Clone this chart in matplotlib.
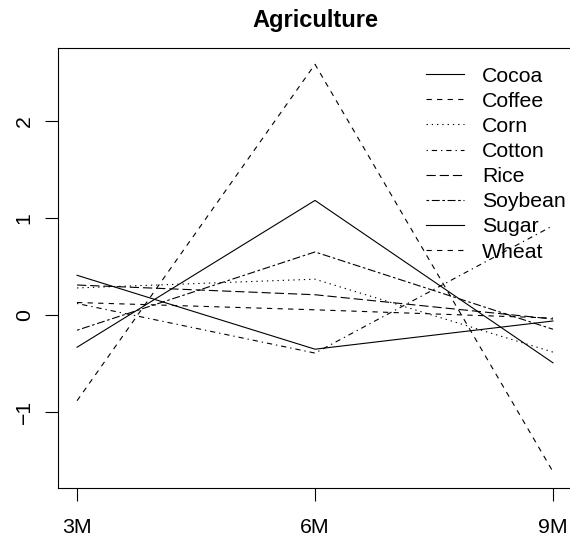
import numpy as np
import matplotlib.pyplot as plt

plt.rcParams['font.family'] = ['Liberation Sans', 'DejaVu Sans']
plt.rcParams['lines.scale_dashes'] = False

horizons = ['3M', '6M', '9M']
commodities = ['Cocoa', 'Coffee', 'Corn', 'Cotton', 'Rice', 'Soybean', 'Sugar', 'Wheat']

cocoa = [-0.33, 1.18, -0.49]
coffee = [-0.88, 2.58, -1.61]
corn = [0.28, 0.37, -0.38]
cotton = [0.12, -0.39, 0.92]
rice = [0.31, 0.21, -0.04]
soybean = [-0.155, 0.65, -0.145]
sugar = [0.41, -0.35, -0.06]
wheat = [0.13, 0.055, -0.03]

series = [cocoa, coffee, corn, cotton, rice, soybean, sugar, wheat]

# R-style line types: solid, dashed, dotted, dotdash, longdash, twodash (recycled)
u = 0.95
lty = [None, (0, (4 * u, 4 * u)), (0, (1 * u, 3 * u)), (0, (1 * u, 3 * u, 4 * u, 3 * u)),
       (0, (7 * u, 3 * u)), (0, (2 * u, 2 * u, 6 * u, 2 * u))]

fig = plt.figure(figsize=(5.70, 5.39), dpi=100)
ax = fig.add_axes([58 / 570, 51 / 539, 514 / 570, 440 / 539])

x = np.arange(1, len(horizons) + 1)
for i, (name, vals) in enumerate(zip(commodities, series)):
    ls = lty[i % len(lty)]
    ax.plot(x, vals, color='black', lw=0.8, label=name,
            linestyle='-' if ls is None else ls)

# 4% padding on both axes, like base R
allv = np.concatenate([np.array(s) for s in series])
ymin, ymax = allv.min(), allv.max()
pad = 0.04 * (ymax - ymin)
ax.set_ylim(ymin - pad, ymax + pad)
ax.set_xlim(1 - 0.08, 3 + 0.08)

fs = 15.3
ax.set_xticks(x)
ax.set_xticklabels(horizons, fontsize=fs)
ax.set_yticks([-1, 0, 1, 2])
ax.set_yticklabels(['−1', '0', '1', '2'], fontsize=fs, rotation=90, va='center')
ax.tick_params(axis='x', length=9.4, width=0.8, pad=12.5)
ax.tick_params(axis='y', length=9.4, width=0.8, pad=8)
for sp in ax.spines.values():
    sp.set_linewidth(0.8)

ax.set_title('Agriculture', fontsize=17, fontweight='bold', pad=15)

ax.legend(loc='upper left', bbox_to_anchor=(426 / 570, 1 - 66.5 / 539),
          bbox_transform=fig.transFigure, frameon=False, fontsize=fs,
          handlelength=1.8, handletextpad=0.84, labelspacing=0.29,
          borderaxespad=0, borderpad=0)

fig.savefig('out.png', dpi=100)
